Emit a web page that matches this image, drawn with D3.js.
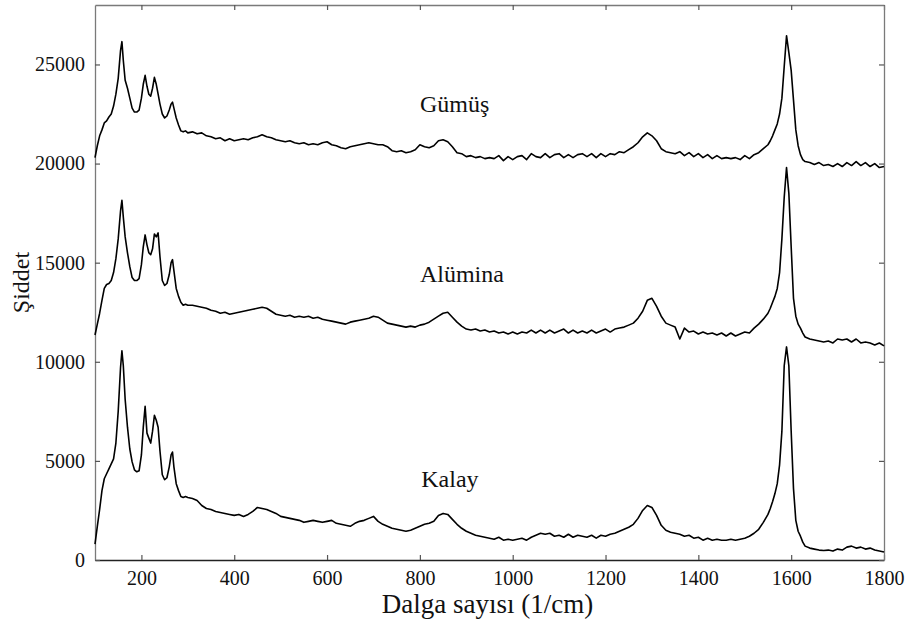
<!DOCTYPE html>
<html>
<head>
<meta charset="utf-8">
<script src="https://cdn.jsdelivr.net/npm/d3@7"></script>
<style>
  body { margin: 0; background: #fff; }
  svg { display: block; }
  text { font-family: "Liberation Serif", "DejaVu Serif", "Noto Serif", Tinos, serif; fill: #111; }
</style>
</head>
<body>
<svg id="chart"></svg>
<script>
// wavenumber grid (1/cm), shared by all three spectra
const wavenumbers = [
  100, 105, 110, 115, 120, 125, 130, 135, 140, 145,
  150, 155, 158, 161, 165, 170, 175, 180, 185, 190,
  195, 200, 204, 208, 212, 216, 220, 224, 228, 232,
  236, 240, 245, 250, 255, 260, 264, 267, 270, 275,
  280, 285, 290, 295, 300, 310, 320, 330, 340, 350,
  360, 370, 380, 390, 400, 410, 420, 430, 440, 450,
  460, 470, 480, 490, 500, 510, 520, 530, 540, 550,
  560, 570, 580, 590, 600, 610, 620, 630, 640, 650,
  660, 670, 680, 690, 700, 710, 720, 730, 740, 750,
  760, 770, 780, 790, 800, 810, 820, 830, 840, 850,
  860, 870, 880, 890, 900, 910, 920, 930, 940, 950,
  960, 970, 980, 990, 1000, 1010, 1020, 1030, 1040, 1050,
  1060, 1070, 1080, 1090, 1100, 1110, 1120, 1130, 1140, 1150,
  1160, 1170, 1180, 1190, 1200, 1210, 1220, 1230, 1240, 1250,
  1260, 1270, 1280, 1290, 1300, 1310, 1320, 1330, 1340, 1350,
  1360, 1370, 1380, 1390, 1400, 1410, 1420, 1430, 1440, 1450,
  1460, 1470, 1480, 1490, 1500, 1510, 1520, 1530, 1540, 1550,
  1555, 1560, 1565, 1570, 1575, 1580, 1585, 1590, 1595, 1600,
  1605, 1610, 1615, 1620, 1625, 1630, 1640, 1650, 1660, 1670,
  1680, 1690, 1700, 1710, 1720, 1730, 1740, 1750, 1760, 1770,
  1780, 1790, 1800
];

// Gümüş (silver) spectrum
const gumus = [
  20300, 20900, 21400, 21700, 22050, 22150, 22350, 22500, 22900, 23500,
  24300, 25700, 26150, 25200, 24200, 23800, 23300, 22800, 22600, 22600,
  22700, 23300, 24000, 24450, 23900, 23500, 23400, 23800, 24350, 24000,
  23500, 23000, 22500, 22300, 22400, 22700, 23000, 23100, 22800, 22300,
  21950, 21650, 21600, 21650, 21550, 21600, 21500, 21550, 21400, 21350,
  21250, 21300, 21150, 21250, 21150, 21200, 21250, 21200, 21300, 21350,
  21450, 21350, 21300, 21200, 21150, 21100, 21150, 21050, 21000, 21050,
  20950, 21000, 20950, 21050, 21100, 20950, 20900, 20800, 20750, 20850,
  20900, 20950, 21000, 21050, 21000, 20950, 20950, 20850, 20650, 20600,
  20650, 20550, 20600, 20700, 20950, 20850, 20800, 20900, 21150, 21200,
  21100, 20850, 20550, 20500, 20350, 20400, 20300, 20350, 20250, 20300,
  20250, 20400, 20150, 20350, 20200, 20350, 20400, 20200, 20500, 20350,
  20300, 20500, 20300, 20450, 20500, 20300, 20450, 20300, 20450, 20500,
  20350, 20500, 20300, 20500, 20350, 20500, 20450, 20600, 20550, 20700,
  20850, 21050, 21350, 21550, 21400, 21150, 20750, 20600, 20550, 20500,
  20600, 20400, 20550, 20350, 20500, 20300, 20450, 20250, 20400, 20250,
  20300, 20250, 20300, 20200, 20400, 20250, 20450, 20550, 20750, 20950,
  21150, 21400, 21700, 22000, 22500, 23300, 24900, 26450, 25600, 24700,
  23200, 21700, 20900, 20450, 20200, 20100, 20050, 19950, 20050, 19900,
  19950, 19850, 20000, 19850, 20050, 19900, 20100, 19900, 20050, 19850,
  20000, 19800, 19850
];

// Alümina spectrum
const alumina = [
  11350, 11900, 12450, 13100, 13700, 13900, 13950, 14100, 14500, 15200,
  16200, 17600, 18150, 17300, 16300, 15500, 14800, 14250, 14100, 14100,
  14200, 14900, 15800, 16400, 15900, 15500, 15400, 15700, 16450, 16300,
  16500, 15300, 14100, 13850, 13950, 14400, 15000, 15150, 14600, 13700,
  13300, 13000, 12850, 12900, 12850, 12850, 12800, 12750, 12700, 12600,
  12550, 12450, 12500, 12400, 12450, 12500, 12550, 12600, 12650, 12700,
  12750, 12700, 12550, 12400, 12350, 12300, 12350, 12250, 12300, 12250,
  12300, 12200, 12250, 12150, 12100, 12050, 12000, 11950, 11900, 12000,
  12050, 12100, 12150, 12200, 12300, 12250, 12100, 11950, 11900, 11850,
  11800, 11750, 11800, 11750, 11850, 11900, 12000, 12150, 12300, 12450,
  12500, 12250, 12000, 11800, 11650, 11600, 11650, 11550, 11600, 11500,
  11550, 11450, 11500, 11400, 11500, 11400, 11500, 11450, 11600, 11450,
  11600, 11450, 11600, 11450, 11550, 11650, 11450, 11600, 11450, 11550,
  11450, 11600, 11450, 11550, 11650, 11500, 11650, 11700, 11750, 11850,
  11950, 12200, 12550, 13100, 13200, 12800, 12300, 11950, 11850, 11750,
  11150, 11700, 11500, 11550, 11400, 11500, 11400, 11450, 11350, 11450,
  11300, 11450, 11300, 11400, 11500, 11450, 11700, 11900, 12150, 12450,
  12700, 13000, 13300, 13700, 14500, 16200, 18300, 19800, 18500, 15800,
  13200, 12300, 11900, 11700, 11450, 11250, 11150, 11100, 11050, 11000,
  11050, 10950, 11150, 11100, 11150, 11000, 11150, 10950, 11000, 10950,
  10850, 10950, 10800
];

// Kalay (tin) spectrum
const kalay = [
  800, 1700, 2550, 3500, 4100, 4350, 4600, 4850, 5100, 5900,
  7500, 9700, 10550, 9800, 8100, 6700, 5600, 4950, 4550, 4450,
  4500, 5300, 6700, 7750, 6400, 6150, 5900, 6500, 7300, 7050,
  6700, 5500, 4300, 4050, 4150, 4700, 5300, 5450, 4700, 3850,
  3500, 3200, 3150, 3200, 3150, 3100, 3000, 2750, 2600, 2550,
  2450, 2400, 2350, 2300, 2250, 2300, 2200, 2300, 2450, 2650,
  2600, 2550, 2450, 2350, 2200, 2150, 2100, 2050, 2000, 1900,
  1950, 2000, 1950, 1900, 1950, 2000, 1850, 1800, 1750, 1700,
  1850, 1950, 2000, 2100, 2200, 1950, 1800, 1700, 1600, 1550,
  1500, 1450, 1500, 1600, 1700, 1800, 1850, 1950, 2250, 2350,
  2300, 2050, 1800, 1600, 1450, 1350, 1250, 1200, 1150, 1100,
  1050, 1150, 1000, 1050, 1000, 1050, 1100, 1000, 1150, 1250,
  1350, 1300, 1350, 1200, 1250, 1150, 1300, 1150, 1250, 1200,
  1150, 1250, 1100, 1250, 1200, 1300, 1350, 1450, 1550, 1650,
  1800, 2100, 2500, 2750, 2650, 2250, 1750, 1500, 1400, 1350,
  1300, 1200, 1250, 1100, 1150, 1000, 1100, 1000, 1050, 1000,
  1000, 1050, 1000, 1050, 1100, 1200, 1350, 1550, 1900, 2300,
  2600, 2950, 3350, 3850, 4800, 6500, 9800, 10750, 9800, 6500,
  3600, 2000, 1450, 1200, 900, 700, 600, 550, 500, 480,
  500, 450, 550, 500, 650, 700, 600, 650, 550, 600,
  500, 450, 400
];

const seriesNames = ["Gümüş", "Alümina", "Kalay"];
const seriesValues = [gumus, alumina, kalay];

const xTicks = [200, 400, 600, 800, 1000, 1200, 1400, 1600, 1800];
const yTicks = [0, 5000, 10000, 15000, 20000, 25000];
const xDomain = [100, 1800];
const yDomain = [0, 28000];

const xTitle = "Dalga sayısı (1/cm)";
const yTitle = "Şiddet";

// chart geometry
const width = 908, height = 621;
const margin = { top: 5, right: 24, bottom: 61, left: 95 };
const serif = '"Liberation Serif", "DejaVu Serif", "Noto Serif", Tinos, serif';

// where each curve's name sits, in data units (left edge, baseline)
const labelAnchors = [[800, 22600], [800, 14050], [803, 3680]];

const svg = d3.select('#chart')
  .attr('width', width)
  .attr('height', height);

const x = d3.scaleLinear()
  .domain(xDomain)
  .range([margin.left, width - margin.right]);

const y = d3.scaleLinear()
  .domain(yDomain)
  .range([height - margin.bottom, margin.top]);

const plain = d3.format('d');

// axes: ticks point inward on all four sides
svg.append('g')
  .attr('class', 'axis bottom')
  .attr('transform', `translate(0,${height - margin.bottom})`)
  .call(d3.axisBottom(x).tickValues(xTicks).tickFormat(plain)
    .tickSizeInner(-5).tickSizeOuter(0).tickPadding(11));

svg.append('g')
  .attr('class', 'axis left')
  .attr('transform', `translate(${margin.left},0)`)
  .call(d3.axisLeft(y).tickValues(yTicks).tickFormat(plain)
    .tickSizeInner(-5).tickSizeOuter(0).tickPadding(10));

svg.append('g')
  .attr('class', 'axis top')
  .attr('transform', `translate(0,${margin.top})`)
  .call(d3.axisTop(x).tickValues(xTicks).tickSizeInner(-5).tickSizeOuter(0).tickFormat(''));

svg.append('g')
  .attr('class', 'axis right')
  .attr('transform', `translate(${width - margin.right},0)`)
  .call(d3.axisRight(y).tickValues(yTicks).tickSizeInner(-5).tickSizeOuter(0).tickFormat(''));

svg.selectAll('.axis').attr('font-family', serif);
svg.selectAll('.axis path').attr('stroke', '#7a7a7a').attr('stroke-width', 1.3);
svg.selectAll('.axis line').attr('stroke', '#555').attr('stroke-width', 1.2);
svg.select('.axis.bottom path').attr('stroke', '#222');
svg.selectAll('.axis text')
  .style('font-family', serif)
  .style('font-size', '20px')
  .attr('fill', '#111');

// spectra
const line = d3.line()
  .x((d, i) => x(wavenumbers[i]))
  .y(d => y(d));

svg.append('g')
  .selectAll('path')
  .data(seriesValues)
  .enter()
  .append('path')
  .attr('d', d => line(d))
  .attr('fill', 'none')
  .attr('stroke', '#000')
  .attr('stroke-width', 1.6)
  .attr('stroke-linejoin', 'round');

// curve names
svg.append('g')
  .selectAll('text')
  .data(seriesNames)
  .enter()
  .append('text')
  .attr('x', (d, i) => x(labelAnchors[i][0]))
  .attr('y', (d, i) => y(labelAnchors[i][1]))
  .style('font-family', serif)
  .style('font-size', '24px')
  .text(d => d);

// axis titles
svg.append('text')
  .attr('x', (margin.left + width - margin.right) / 2 - 2)
  .attr('y', 613)
  .attr('text-anchor', 'middle')
  .style('font-family', serif)
  .style('font-size', '27px')
  .text(xTitle);

svg.append('text')
  .attr('transform', `translate(29,${(margin.top + height - margin.bottom) / 2}) rotate(-90)`)
  .attr('text-anchor', 'middle')
  .style('font-family', serif)
  .style('font-size', '24px')
  .text(yTitle);
</script>
</body>
</html>
